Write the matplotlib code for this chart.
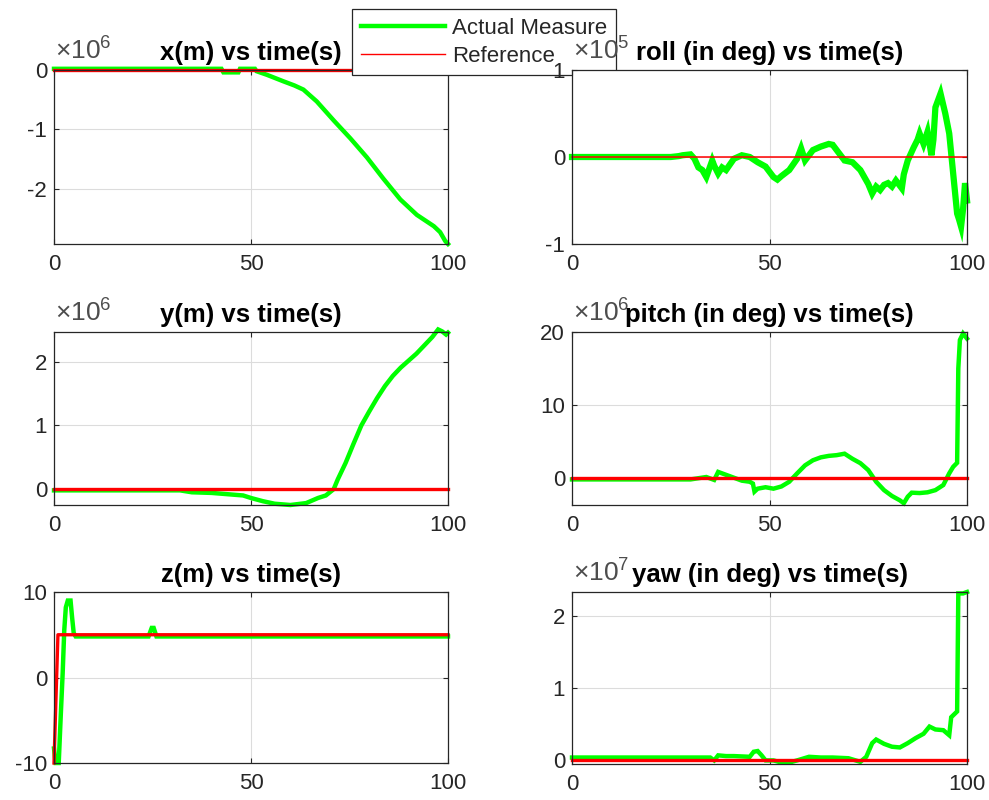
import numpy as np
import matplotlib.pyplot as plt
from matplotlib.lines import Line2D

plt.rcParams['font.family'] = ['Liberation Sans', 'DejaVu Sans']
plt.rcParams['mathtext.fontset'] = 'custom'
plt.rcParams['mathtext.rm'] = 'Liberation Sans'
plt.rcParams['mathtext.it'] = 'Liberation Sans:italic'
plt.rcParams['mathtext.bf'] = 'Liberation Sans:bold'

# ------------------------
# Data (values in the axis' displayed units)
# ------------------------

# x(m), x 1e6
x_t = [0, 42.5, 43, 46.8, 47.2, 51, 51.4, 54, 58.2, 61, 63.3, 66.7, 71, 75.2, 79.4,
       83.6, 87.9, 92.1, 96.4, 98, 99.3, 100]
x_val = [0.02, 0.02, -0.04, -0.04, 0.02, 0.02, -0.02, -0.08, -0.19, -0.26, -0.33, -0.53,
         -0.85, -1.15, -1.47, -1.83, -2.18, -2.44, -2.63, -2.73, -2.88, -2.93]

# roll (deg), x 1e5
roll_t = [0, 25, 27, 28, 30, 31, 32, 33, 34, 35.5, 36, 37, 38, 39, 41, 43, 45, 47, 49, 51,
          52, 53, 55, 57, 58, 59, 60, 61, 63, 65, 66, 67, 69, 71, 73, 75, 76, 77, 78, 79,
          80, 81, 82, 83.5, 84, 85, 86.5, 87.5, 88, 89, 90, 91, 91.5, 92, 93.3, 94.5, 95.5,
          96.5, 97.5, 98, 98.5, 99, 99.5, 100]
roll_val = [0, 0, 0.01, 0.02, 0.03, -0.02, -0.12, -0.15, -0.23, -0.04, -0.1, -0.19, -0.12,
            -0.15, -0.02, 0.02, 0, -0.06, -0.11, -0.23, -0.26, -0.22, -0.15, -0.02, 0.1,
            -0.04, 0.02, 0.08, 0.12, 0.15, 0.14, 0.08, -0.04, -0.06, -0.15, -0.31, -0.42,
            -0.34, -0.38, -0.32, -0.3, -0.34, -0.27, -0.36, -0.2, -0.04, 0.11, 0.2, 0.27,
            0.15, 0.29, 0.02, 0.2, 0.57, 0.73, 0.5, 0.27, -0.19, -0.65, -0.72, -0.8, -0.6,
            -0.3, -0.5]

# y(m), x 1e6
y_t = [0, 32, 35, 40, 46, 48, 50, 53, 56, 60, 64, 67, 69, 71, 72, 74, 76, 78, 80, 82, 84,
       86, 88, 90, 92, 94, 96, 97.5, 98.5, 99.5, 100]
y_val = [-0.02, -0.02, -0.05, -0.06, -0.09, -0.1, -0.14, -0.19, -0.23, -0.25, -0.22, -0.14,
         -0.1, 0.0, 0.15, 0.41, 0.71, 1.0, 1.22, 1.43, 1.62, 1.78, 1.91, 2.02, 2.13, 2.26,
         2.39, 2.51, 2.48, 2.43, 2.46]

# pitch (deg), x 1e6
pitch_t = [0, 30, 34, 36, 37, 39, 41, 43, 45, 45.8, 46.2, 47, 49, 51, 53, 55, 57, 59, 61,
           63, 65, 67, 69, 71, 73, 75, 77, 79, 81, 83, 84, 85, 86, 88, 90, 92, 94, 95.5,
           96.5, 97.5, 97.8, 98.2, 99, 100]
pitch_val = [-0.23, -0.23, 0.1, -0.3, 0.8, 0.4, 0.0, -0.4, -0.55, -0.8, -1.9, -1.5, -1.3,
             -1.5, -1.2, -0.55, 0.6, 1.7, 2.4, 2.8, 3.0, 3.1, 3.3, 2.6, 2.0, 1.05, -0.55,
             -1.7, -2.5, -3.1, -3.5, -2.6, -2.05, -2.1, -2.0, -1.7, -1.0, 0.6, 1.5, 2.05,
             15.0, 18.9, 19.8, 19.1]

# z(m)
z_t = [0, 0.4, 1.2, 1.7, 2.2, 2.6, 3.0, 3.5, 4.2, 4.6, 5.0, 5.5, 24, 24.8, 25.3, 26, 100]
z_val = [-8.3, -10, -10, -4.6, 0.5, 5.5, 8.2, 9, 9, 7, 5.2, 4.8, 4.8, 5.8, 5.8, 4.8, 4.8]
z_ref_t = [0, 1.0, 100]
z_ref_val = [-10, 5.0, 5.0]

# yaw (deg), x 1e7
yaw_t = [0, 35, 36, 37, 39, 41, 45, 46, 47, 48, 49, 51, 53, 55, 57, 60, 63, 66, 70, 73,
         74.5, 76, 77, 79, 81, 83, 85, 87, 89, 90.5, 92, 94, 95.5, 96, 97.5, 97.8, 99, 100]
yaw_val = [0.04, 0.04, 0.0, 0.07, 0.06, 0.06, 0.05, 0.12, 0.13, 0.07, 0.0, 0.0, -0.03,
           -0.03, 0.0, 0.05, 0.04, 0.04, 0.03, -0.02, 0.05, 0.24, 0.29, 0.23, 0.19, 0.18,
           0.24, 0.31, 0.37, 0.47, 0.43, 0.42, 0.35, 0.6, 0.68, 2.32, 2.32, 2.34]

ref_t = [0, 100]
ref_zero = [0, 0]

titles = ['x(m) vs time(s)', 'roll (in deg) vs time(s)',
          'y(m) vs time(s)', 'pitch (in deg) vs time(s)',
          'z(m) vs time(s)', 'yaw (in deg) vs time(s)']
x_ticks = [0, 50, 100]
x_tick_labels = ['0', '50', '100']

GREEN = '#00ff00'
RED = '#ff0000'
INK = '#262626'

W, H = 989, 800
fig = plt.figure(figsize=(W / 100, H / 100), dpi=100)


def make_axes(px_left, px_top, px_right, px_bottom):
    return fig.add_axes([px_left / W, 1 - px_bottom / H,
                         (px_right - px_left) / W, (px_bottom - px_top) / H])


def style(ax, title, ylim, yticks, ylabels, exponent=None):
    ax.set_xlim(0, 100)
    ax.set_ylim(*ylim)
    ax.set_xticks(x_ticks)
    ax.set_xticklabels(x_tick_labels)
    ax.set_yticks(yticks)
    ax.set_yticklabels(ylabels)
    ax.grid(True, color='#dcdcdc', lw=0.8)
    ax.set_axisbelow(True)
    ax.tick_params(direction='in', length=3.5, width=0.8, colors=INK, labelsize=16,
                   top=True, right=True)
    ax.tick_params(axis='x', pad=7)
    ax.tick_params(axis='y', pad=5)
    for s in ax.spines.values():
        s.set_color(INK)
        s.set_linewidth(0.9)
    ax.set_title(title, fontsize=18.5, fontweight='bold', pad=7, color='black')
    if exponent is not None:
        ax.annotate(r'$\times10^{%d}$' % exponent, xy=(0, 1), xycoords='axes fraction',
                    xytext=(0.5, 4), textcoords='offset points', ha='left', va='bottom',
                    fontsize=19, color='#4d4d4d')


def draw(ax, t, vals, scale, rt, rv, lw=3.2, ref_lw=2.4):
    ax.plot(t, np.array(vals) * scale, color=GREEN, lw=lw, clip_on=False,
            solid_joinstyle='miter')
    ax.plot(rt, np.array(rv) * scale, color=RED, lw=ref_lw, clip_on=False)


ax_x = make_axes(54, 70, 448, 244)
ax_roll = make_axes(572, 70, 967, 244)
ax_y = make_axes(54, 332, 448, 505)
ax_pitch = make_axes(572, 332, 967, 505)
ax_z = make_axes(54, 592, 448, 763)
ax_yaw = make_axes(572, 592, 967, 764)
ax_x.set_zorder(1)
ax_roll.set_zorder(2)

draw(ax_x, x_t, x_val, 1e6, ref_t, ref_zero)
style(ax_x, titles[0], (-2.93e6, 0), [-2e6, -1e6, 0], ['-2', '-1', '0'], 6)

draw(ax_roll, roll_t, roll_val, 1e5, ref_t, ref_zero, lw=4.5, ref_lw=1.1)
style(ax_roll, titles[1], (-1e5, 1e5), [-1e5, 0, 1e5], ['-1', '0', '1'], 5)

draw(ax_y, y_t, y_val, 1e6, ref_t, ref_zero)
style(ax_y, titles[2], (-0.25e6, 2.47e6), [0, 1e6, 2e6], ['0', '1', '2'], 6)

draw(ax_pitch, pitch_t, pitch_val, 1e6, ref_t, ref_zero)
style(ax_pitch, titles[3], (-3.74e6, 20e6), [0, 10e6, 20e6], ['0', '10', '20'], 6)

draw(ax_z, z_t, z_val, 1, z_ref_t, z_ref_val)
style(ax_z, titles[4], (-10, 10), [-10, 0, 10], ['-10', '0', '10'])

draw(ax_yaw, yaw_t, yaw_val, 1e7, ref_t, ref_zero)
style(ax_yaw, titles[5], (-0.05e7, 2.34e7), [0, 1e7, 2e7], ['0', '1', '2'], 7)

handles = [Line2D([], [], color=GREEN, lw=3.2), Line2D([], [], color=RED, lw=1.0)]
leg = ax_x.legend(handles, ['Actual Measure', 'Reference'], loc='upper left',
                  bbox_to_anchor=(352 / W, 1 - 9 / H), bbox_transform=fig.transFigure,
                  borderaxespad=0, fancybox=False, framealpha=1, edgecolor=INK,
                  fontsize=16, handlelength=3.8, handletextpad=0.3, borderpad=0.4,
                  labelspacing=0.3)
leg.get_frame().set_linewidth(0.9)
for txt in leg.get_texts():
    txt.set_color(INK)

fig.savefig('out.png', dpi=100)
